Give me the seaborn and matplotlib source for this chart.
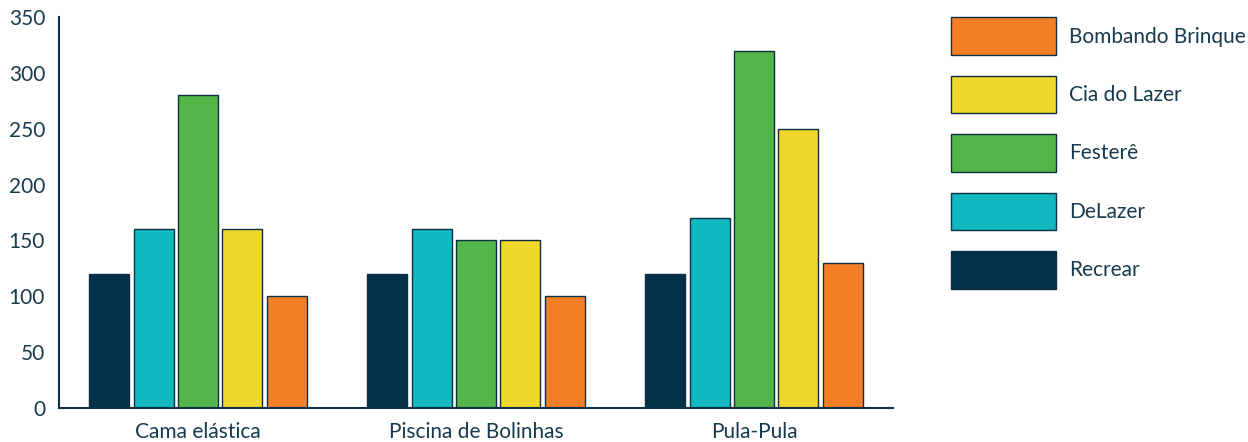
import matplotlib
matplotlib.use("Agg")
import matplotlib.pyplot as plt
import seaborn as sns
import pandas as pd
from matplotlib.patches import Patch

categories = ["Cama elástica", "Piscina de Bolinhas", "Pula-Pula"]
series_names = ["Recrear", "DeLazer", "Festerê", "Cia do Lazer", "Bombando Brinque"]
recrear = [120, 120, 120]
delazer = [160, 160, 170]
festere = [280, 150, 320]
cia_do_lazer = [160, 150, 250]
bombando = [100, 100, 130]
y_ticks = [0, 50, 100, 150, 200, 250, 300, 350]

colors = ["#023047", "#12B9C1", "#54B648", "#EFD62A", "#F57F27"]
text_color = "#173a4e"
edge_color = "#0d2f44"

sns.set_theme(style="white")
plt.rcParams['font.family'] = ['Lato', 'DejaVu Sans']

values = [recrear, delazer, festere, cia_do_lazer, bombando]
rows = []
for name, vals in zip(series_names, values):
    for cat, v in zip(categories, vals):
        rows.append({"cat": cat, "series": name, "value": v})
df = pd.DataFrame(rows)

fig = plt.figure(figsize=(12.48, 4.42), dpi=100)
ax = fig.add_axes([59/1248, 34/442, (893-59)/1248, (408-17)/442])

sns.barplot(data=df, x="cat", y="value", hue="series", order=categories,
            hue_order=series_names, palette=colors, width=0.8, gap=0.1,
            edgecolor=edge_color, linewidth=1.0, saturation=1, ax=ax, legend=False)

ax.set_xlim(-0.5, 2.5)
ax.set_ylim(0, 350)
ax.set_yticks(y_ticks)
ax.set_xlabel("")
ax.set_ylabel("")
for s in ["top", "right"]:
    ax.spines[s].set_visible(False)
for s in ["left", "bottom"]:
    ax.spines[s].set_color(edge_color)
    ax.spines[s].set_linewidth(1.5)

ax.tick_params(axis="y", direction="in", length=21, width=1.5, color="#3d5a6a",
               labelsize=15, labelcolor=text_color, pad=10)
ax.tick_params(axis="x", which="major", length=0, labelsize=15, labelcolor=text_color, pad=10)
ax.set_xticks([0.5, 1.5, 2.5], minor=True)
ax.tick_params(axis="x", which="minor", direction="in", length=8, width=1.2, color="#3d5a6a")

handles = [Patch(facecolor=c, edgecolor=edge_color, linewidth=1.0, label=n)
           for n, c in zip(series_names, colors)][::-1]
leg = fig.legend(handles=handles, loc="upper left", bbox_to_anchor=(943/1248, 1 - 9/442),
                 frameon=False, fontsize=15, handlelength=5.0, handleheight=2.4,
                 handletextpad=0.65, labelspacing=1.0, borderaxespad=0)
for t in leg.get_texts():
    t.set_color(text_color)

fig.savefig("out.png", dpi=100)
